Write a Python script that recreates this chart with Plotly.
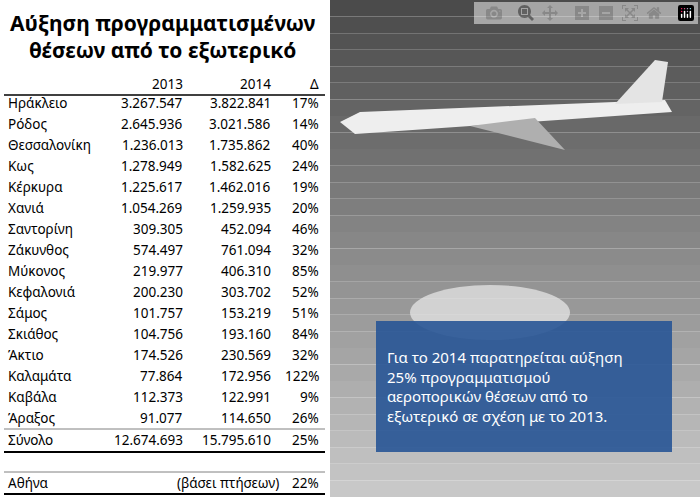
import plotly.graph_objects as go

cities = ["Ηράκλειο","Ρόδος","Θεσσαλονίκη","Κως","Κέρκυρα","Χανιά","Σαντορίνη","Ζάκυνθος","Μύκονος",
          "Κεφαλονιά","Σάμος","Σκιάθος","Άκτιο","Καλαμάτα","Καβάλα","Άραξος"]
v2013 = ["3.267.547","2.645.936","1.236.013","1.278.949","1.225.617","1.054.269","309.305","574.497","219.977",
         "200.230","101.757","104.756","174.526","77.864","112.373","91.077"]
v2014 = ["3.822.841","3.021.586","1.735.862","1.582.625","1.462.016","1.259.935","452.094","761.094","406.310",
         "303.702","153.219","193.160","230.569","172.956","122.991","114.650"]
delta = ["17%","14%","40%","24%","19%","20%","46%","32%","85%","52%","51%","84%","32%","122%","9%","26%"]
total = ["Σύνολο","12.674.693","15.795.610","25%"]
athens = ["Αθήνα","(βάσει πτήσεων)","22%"]
title = "Αύξηση προγραμματισμένων<br>θέσεων από το εξωτερικό"
note = ("Για το 2014 παρατηρείται αύξηση<br>25% προγραμματισμού<br>αεροπορικών θέσεων από το"
        "<br>εξωτερικό σε σχέση με το 2013.")

W, H = 700, 497
FONT = "Noto Sans"
def X(px): return px / W
def Y(py): return 1 - py / H

fig = go.Figure()
shapes, ann = [], []

shapes.append(dict(type="rect", xref="paper", yref="paper", x0=0, x1=X(330), y0=0, y1=1,
                   fillcolor="white", line_width=0))
# background "photo" gradient
top = (75, 75, 75); bot = (200, 200, 200)
n = 30
for i in range(n):
    t = i / (n - 1)
    c = tuple(int(top[k] + (bot[k] - top[k]) * t) for k in range(3))
    shapes.append(dict(type="rect", xref="paper", yref="paper", x0=X(330), x1=1.01,
                       y0=Y(H * (i + 1) / n), y1=Y(H * i / n), fillcolor="rgb(%d,%d,%d)" % c, line_width=0))
# clouds
shapes.append(dict(type="circle", xref="paper", yref="paper", x0=X(410), x1=X(570), y0=Y(340), y1=Y(285),
                   fillcolor="rgba(230,230,230,0.75)", line_width=0))
# simple plane silhouette
shapes.append(dict(type="path", xref="paper", yref="paper",
                   path="M %f %f L %f %f L %f %f L %f %f L %f %f Z" % (X(340), Y(122), X(360), Y(112), X(665), Y(100),
                                                                   X(672), Y(112), X(355), Y(134)),
                   fillcolor="rgb(238,238,238)", line_width=0))
shapes.append(dict(type="path", xref="paper", yref="paper",
                   path="M %f %f L %f %f L %f %f L %f %f Z" % (X(615), Y(104), X(655), Y(60), X(668), Y(62), X(662), Y(102)),
                   fillcolor="rgb(228,228,228)", line_width=0))
shapes.append(dict(type="path", xref="paper", yref="paper",
                   path="M %f %f L %f %f L %f %f Z" % (X(470), Y(126), X(565), Y(150), X(535), Y(118)),
                   fillcolor="rgb(175,175,175)", line_width=0))
# blue box
shapes.append(dict(type="rect", xref="paper", yref="paper", x0=X(376), x1=X(672), y0=Y(452), y1=Y(321),
                   fillcolor="rgba(40,85,150,0.9)", line_width=0))
ann.append(dict(x=X(385), y=Y(386), xref="paper", yref="paper", text=note, showarrow=False, xanchor="left",
                yanchor="middle", align="left", font=dict(family=FONT, size=15, color="white")))

ann.append(dict(x=X(163), y=Y(36), xref="paper", yref="paper", text="<b>" + title + "</b>", showarrow=False,
                xanchor="center", yanchor="middle",
                font=dict(family=FONT, size=21, color="black"), align="center"))

colx = [6, 185, 273, 321]
def row(vals, py, anchors=("left", "right", "right", "right"), xs=colx):
    for v, x, a in zip(vals, xs, anchors):
        ann.append(dict(x=X(x), y=Y(py), xref="paper", yref="paper", text=v, showarrow=False,
                        xanchor=a, yanchor="middle", font=dict(family=FONT, size=13.5, color="black")))

row(["2013", "2014", "Δ"], 84, ("right", "right", "right"), colx[1:])
for i, c in enumerate(cities):
    row([c, v2013[i], v2014[i], delta[i]], 103 + i * 21)
row(total, 440)
row(athens, 483, ("left", "center", "right"), [6, 228, 321])

def hline(py, w, col="black"):
    shapes.append(dict(type="line", xref="paper", yref="paper", x0=X(4), x1=X(325), y0=Y(py), y1=Y(py),
                       line=dict(color=col, width=w)))
hline(95, 1.5); hline(429, 1, "gray"); hline(452, 2); hline(472, 1, "gray"); hline(494, 2)

fig.update_layout(width=W, height=H, margin=dict(l=0, r=0, t=0, b=0), paper_bgcolor="white",
                  plot_bgcolor="white", shapes=shapes, annotations=ann,
                  xaxis=dict(visible=False), yaxis=dict(visible=False))
fig.write_html("out.html", post_script="document.body.style.margin='0';document.body.style.overflow='hidden';")
